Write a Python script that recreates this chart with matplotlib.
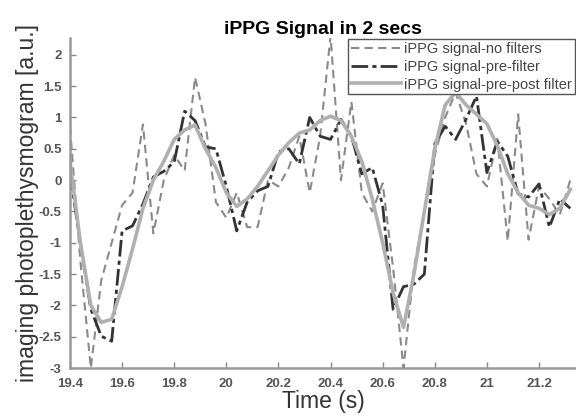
import numpy as np
import matplotlib
matplotlib.use("Agg")
import matplotlib.pyplot as plt

plt.rcParams['font.family'] = ['Liberation Sans', 'DejaVu Sans']

# samples every 0.04 s starting at 19.4 s
t_start = 19.4
dt = 0.04

no_filter = [0.85, -1.3, -3.0, -1.6, -1.0, -0.4, -0.2, 0.89, -0.85, 0.0,
             0.4, 0.15, 1.64, 0.9, -0.35, -0.6, -0.2, -0.75, -0.75, 0.0,
             -0.1, 0.2, 0.7, -0.2, 0.7, 2.3, 0.0, 1.25, -0.2, -0.5,
             -0.05, -1.4, -3.0, -1.4, -0.5, 0.4, 1.0, 1.4, 0.9, 0.1,
             -0.1, 0.66, -0.97, 1.05, -0.95, -0.1, -0.3, -0.55, 0.0]

pre_filter = [0.1, -1.0, -2.06, -2.49, -2.57, -0.81, -0.73, -0.38, 0.05, 0.14,
              0.29, 1.1, 0.95, 0.53, 0.5, -0.1, -0.81, -0.35, -0.17, -0.1,
              0.45, 0.5, 0.26, 1.0, 0.7, 0.65, 0.97, 0.7, 0.1, 0.2,
              -0.4, -2.06, -1.7, -1.66, -1.5, 0.58, 0.86, 0.65, 0.97, 1.34,
              0.12, 0.62, 0.38, -0.22, -0.27, -0.06, -0.75, -0.3, -0.45]

pre_post = [0.3, -1.0, -2.0, -2.27, -2.22, -1.7, -1.1, -0.45, 0.0, 0.3,
            0.65, 0.8, 0.88, 0.5, 0.2, -0.2, -0.42, -0.3, -0.1, 0.15,
            0.4, 0.6, 0.75, 0.8, 0.95, 1.02, 0.95, 0.7, 0.3, -0.3,
            -1.0, -1.8, -2.35, -1.5, -0.5, 0.5, 1.2, 1.4, 1.2, 1.05,
            0.9, 0.55, 0.1, -0.2, -0.4, -0.45, -0.55, -0.45, -0.15]

t = t_start + dt * np.arange(len(no_filter))

fig = plt.figure(figsize=(5.76, 4.16), dpi=100)
ax = fig.add_axes([0.1215, 0.115, 0.8785, 0.794])

ax.plot(t, no_filter, color='#8a8a8a', linestyle=(0, (4, 2.5)), lw=1.5,
        label='iPPG signal-no filters')
ax.plot(t, pre_filter, color='#333333', linestyle=(0, (6, 1.5, 1.5, 1.5)), lw=2.0,
        label='iPPG signal-pre-filter')
ax.plot(t, pre_post, color='#b0b0b0', linestyle='-', lw=2.6,
        label='iPPG signal-pre-post filter')

ax.set_xlim(19.4, 21.342)
ax.set_ylim(-3, 2.27)
ax.set_xticks(np.arange(19.4, 21.21, 0.2))
ax.set_xticklabels(['19.4', '19.6', '19.8', '20', '20.2', '20.4', '20.6', '20.8', '21', '21.2'])
ax.set_yticks(np.arange(-3, 2.01, 0.5))
ax.set_yticklabels(['-3', '-2.5', '-2', '-1.5', '-1', '-0.5', '0', '0.5', '1', '1.5', '2'])

for s in ['top', 'right']:
    ax.spines[s].set_visible(False)
for s in ['left', 'bottom']:
    ax.spines[s].set_color('#999999')
    ax.spines[s].set_linewidth(1.8)
ax.tick_params(direction='in', length=4, width=1, color='#888888',
               labelsize=9.5, labelcolor='#555555')
ax.tick_params(axis='x', pad=7)
ax.tick_params(axis='y', pad=6)
for lab in ax.get_xticklabels() + ax.get_yticklabels():
    lab.set_fontweight('bold')

ax.set_title('iPPG Signal in 2 secs', fontsize=14, fontweight='bold', pad=3)
ax.set_xlabel('Time (s)', fontsize=16.5, color='#333333', labelpad=0)
ax.set_ylabel('imaging photoplethysmogram [a.u.]', fontsize=16.5, color='#333333', labelpad=0)

leg = ax.legend(loc='upper right', fontsize=10.5, handlelength=3.4, handletextpad=0.2,
                labelspacing=0.25, borderpad=0.2, borderaxespad=0.1, fancybox=False,
                framealpha=1, edgecolor='#555555')
for txt in leg.get_texts():
    txt.set_color('#444444')

fig.savefig('out.png', dpi=100)
